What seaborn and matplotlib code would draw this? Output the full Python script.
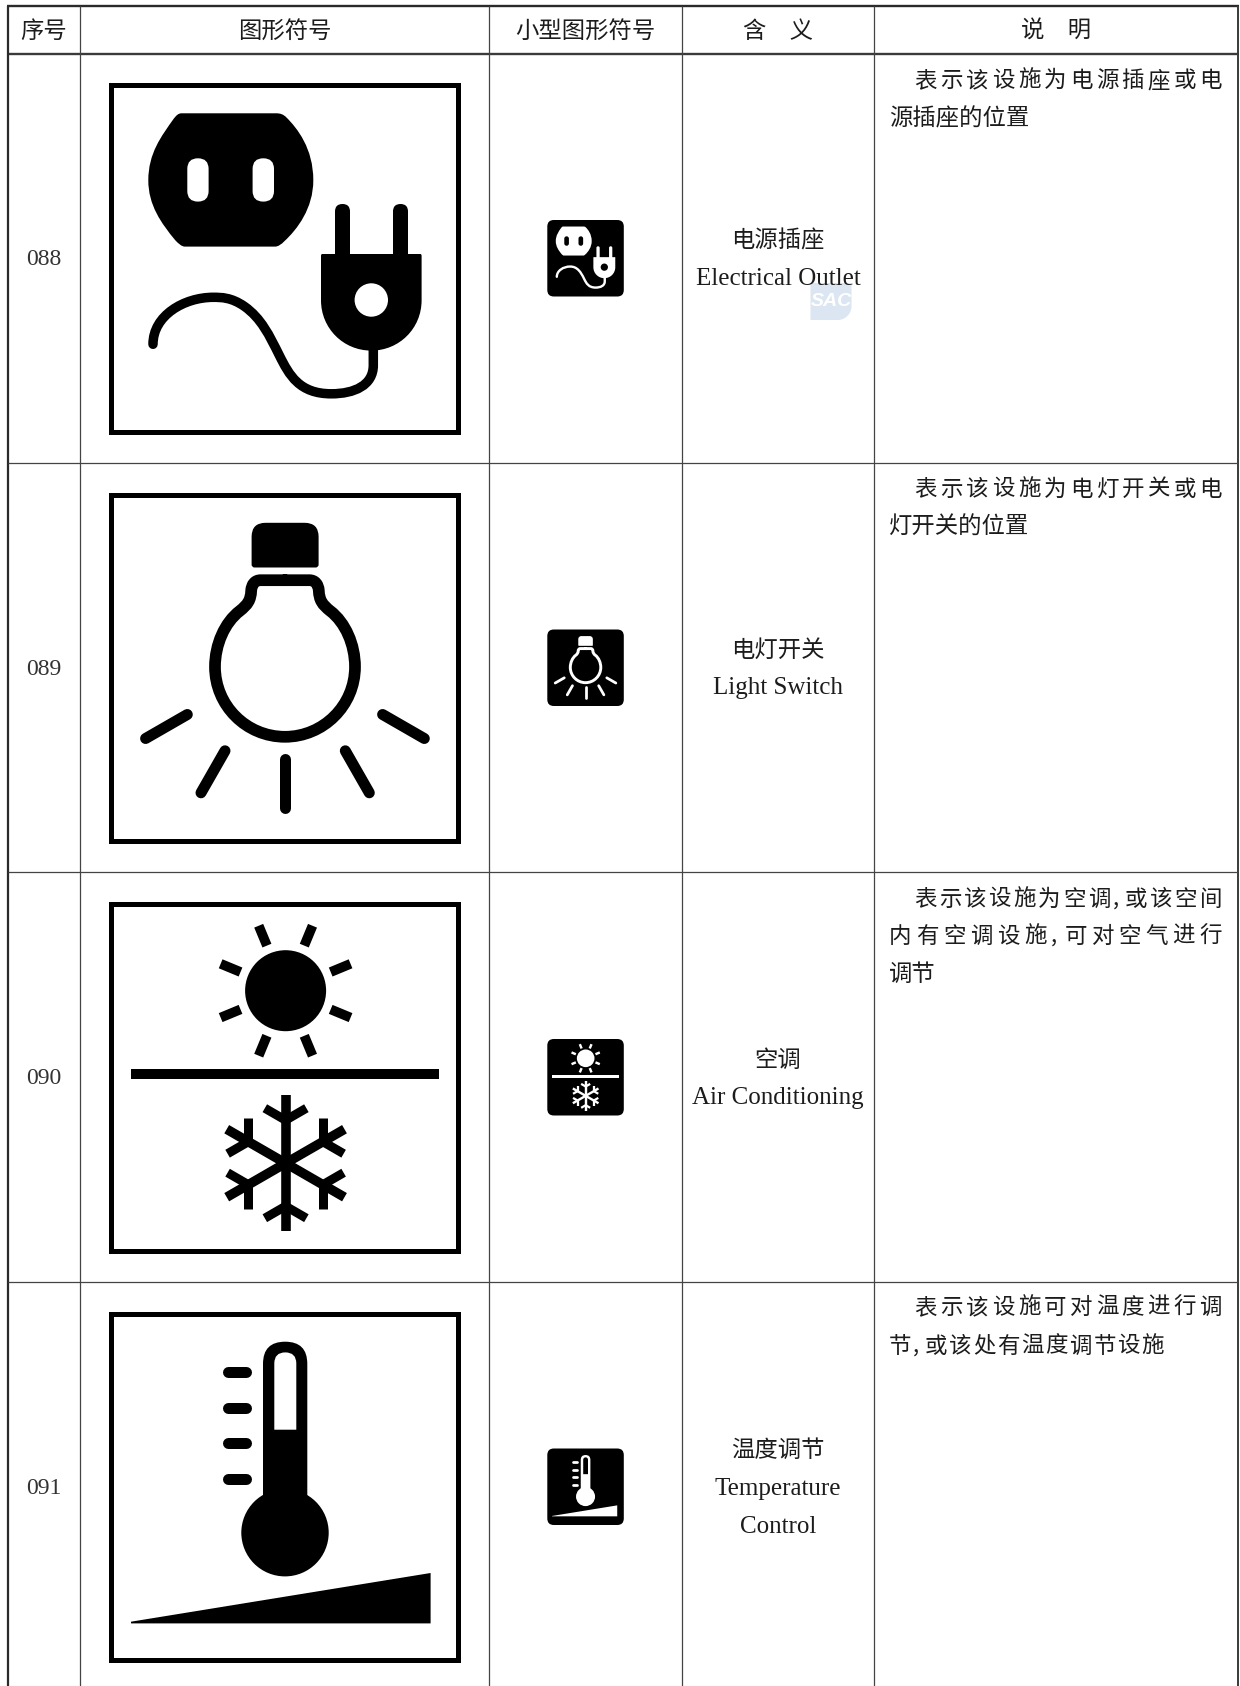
import numpy as np
import matplotlib
matplotlib.use("Agg")
import matplotlib.pyplot as plt
import seaborn as sns
from matplotlib.path import Path
from matplotlib.patches import PathPatch, Circle, Polygon
from matplotlib.transforms import Affine2D

sns.set_theme(style="white")
CJK = ['Noto Sans CJK SC', 'DejaVu Sans']
plt.rcParams['font.family'] = CJK

# ============================================================
# 1. TABLE CONTENT
# ============================================================

headers = ["序号", "图形符号", "小型图形符号", "含　义", "说　明"]
numbers = ["088", "089", "090", "091"]
names_cn = ["电源插座", "电灯开关", "空调", "温度调节"]
names_en = [["Electrical Outlet"], ["Light Switch"], ["Air Conditioning"], ["Temperature", "Control"]]
notes = [
    ["表示该设施为电源插座或电", "源插座的位置"],
    ["表示该设施为电灯开关或电", "灯开关的位置"],
    ["表示该设施为空调,或该空间", "内有空调设施,可对空气进行", "调节"],
    ["表示该设施可对温度进行调", "节,或该处有温度调节设施"],
]

# ============================================================
# 2. LAYOUT (pixels of the page)
# ============================================================

W, H = 1240, 1686
col_x = [8, 80, 489, 682, 874, 1238]
row_y = [54, 463, 872.3, 1281.7]
header_x = [43.5, 285, 585, 778, 1056]
BOX = 351.5
box_x, box_y = 109.3, [83.3, 492.5, 902, 1311.7]
MINI = 76.5
mini_x, mini_y = 547.3, [220, 629.5, 1039, 1448.5]
PX = 0.72  # points per pixel at dpi 100
TXT = 16.8
TXT_JUST = 16.2


# ============================================================
# 3. HELPERS
# ============================================================

def curve(start, *segments):
    """Path from a start point; 1 point = line, 3 points = bezier."""
    verts, codes = [start], [Path.MOVETO]
    for seg in segments:
        if len(seg) == 1:
            verts += seg
            codes += [Path.LINETO]
        else:
            verts += seg
            codes += [Path.CURVE4] * 3
    return Path(verts, codes)


def round_rect(x0, y0, x1, y1, rt, rb=None):
    rb = rt if rb is None else rb
    verts = [(x0 + rt, y0), (x1 - rt, y0), (x1, y0), (x1, y0 + rt), (x1, y1 - rb), (x1, y1), (x1 - rb, y1),
             (x0 + rb, y1), (x0, y1), (x0, y1 - rb), (x0, y0 + rt), (x0, y0), (x0 + rt, y0)]
    codes = [Path.MOVETO, Path.LINETO, Path.CURVE3, Path.CURVE3, Path.LINETO, Path.CURVE3, Path.CURVE3,
             Path.LINETO, Path.CURVE3, Path.CURVE3, Path.LINETO, Path.CURVE3, Path.CURVE3]
    return Path(verts, codes)


class Pen:
    """Draws in local icon units (0..351, y down)."""

    def __init__(self, ax, x, y, scale, fg, bg, boost=1.0):
        self.ax, self.scale, self.fg, self.bg, self.boost = ax, scale, fg, bg, boost
        self.tr = Affine2D().scale(scale).translate(x, y) + ax.transData

    def fill(self, path, color=None):
        self.ax.add_patch(PathPatch(path, fc=color or self.fg, ec='none', lw=0, transform=self.tr))

    def stroke(self, path, width, cap='round'):
        self.ax.add_patch(PathPatch(path, fc='none', ec=self.fg, lw=width * self.scale * self.boost * PX,
                                    capstyle=cap, joinstyle='round', transform=self.tr))

    def line(self, p0, p1, width, cap='round'):
        self.stroke(Path([p0, p1]), width, cap)

    def circle(self, c, r, color=None):
        self.ax.add_patch(Circle(c, r, fc=color or self.fg, ec='none', lw=0, transform=self.tr))

    def poly(self, pts, color=None):
        self.ax.add_patch(Polygon(pts, closed=True, fc=color or self.fg, ec='none', lw=0, transform=self.tr))


def cjk_text(ax, text, x, y, ha='center', size=TXT, color='#1c1c1c'):
    em = size / PX
    ax.text(x, y + 0.38 * em, text, fontsize=size, color=color, ha=ha, va='baseline', family=CJK)


def justified(ax, text, x0, x1, y, size=TXT_JUST):
    """One text per character, spread between x0 and x1 like the typeset lines."""
    em = size / PX
    weights = [0.5 if ch == ',' else 1 for ch in text]
    pitch = (x1 - x0 - em) / max(sum(weights) - 1, 1)
    x = x0
    for ch, w in zip(text, weights):
        cjk_text(ax, ch, x, y, ha='left', size=size)
        x += w * pitch


# ============================================================
# 4. PICTOGRAMS
# ============================================================

def draw_outlet(p):
    socket = curve((72.3, 30), [(167, 30)], [(171, 30), (174, 31), (177, 34)], [(188, 45), (204, 65), (204, 97)],
                   [(204, 125), (188, 146), (175, 158)], [(172, 161), (169, 163.3), (165.7, 163.3)],
                   [(75.7, 163.3)], [(72, 163.3), (69, 160), (66, 157)], [(52, 140), (39, 122), (39, 97)],
                   [(39, 70), (52, 53), (64, 36)], [(67, 32), (69, 30), (72.3, 30)])
    p.fill(socket)
    p.fill(round_rect(78, 75, 99.3, 118.3, 10.6), p.bg)
    p.fill(round_rect(143.3, 75, 164.7, 118.3, 10.6), p.bg)
    p.fill(round_rect(225.7, 120.7, 240.7, 180, 7.4, 0))
    p.fill(round_rect(283.7, 120.7, 298.7, 180, 7.4, 0))
    body = curve((213, 170.7), [(311, 170.7)], [(312, 170.7), (312.3, 171.5), (312.3, 173)], [(312.3, 217)],
                 [(312.3, 245), (290, 267.3), (262, 267.3)], [(234, 267.3), (211.7, 245), (211.7, 217)],
                 [(211.7, 173)], [(211.7, 171.5), (212, 170.7), (213, 170.7)])
    p.fill(body)
    p.circle((262, 216.7), 16.7, p.bg)
    cord = curve((264, 262), [(264, 282)], [(264, 302), (245, 310.5), (222, 310.5)],
                 [(190, 310.5), (180, 292), (170, 272)], [(160, 252), (152, 235), (135, 223)],
                 [(122, 214), (112, 214), (104, 214)], [(75, 214), (43.7, 232), (43.7, 261)])
    p.stroke(cord, 9.5)


def draw_bulb(p):
    p.fill(round_rect(142.3, 30.3, 209.3, 75, 14, 3))
    cx = 175.7
    right = [[(200, 87.7)], [(206, 87.7), (209, 92), (209.5, 98)], [(210, 108), (213, 112), (221, 118.5)],
             [(236, 130), (245.7, 152), (245.7, 174.3)], [(245.7, 213), (214, 244.3), (cx, 244.3)]]
    left = [[(137, 244.3), (105.7, 213), (105.7, 174.3)], [(105.7, 152), (115.4, 130), (130.4, 118.5)],
            [(138.4, 112), (141.4, 108), (141.9, 98)], [(142.4, 92), (145.4, 87.7), (151.4, 87.7)], [(cx, 87.7)]]
    p.stroke(curve((cx, 87.7), *right, *left), 11.7)
    p.line((cx, 266), (cx, 315.3), 11)
    p.line((115.7, 258.3), (91.7, 300.3), 11)
    p.line((236, 258.3), (260, 300.3), 11)
    p.line((78, 222), (36.3, 246), 11)
    p.line((273.3, 222), (315, 246), 11)


def draw_aircon(p):
    c = np.array([176.3, 88.7])
    p.circle(tuple(c), 40.5)
    for ang in np.arange(22.5, 360, 45):
        d = np.array([np.cos(np.radians(ang)), np.sin(np.radians(ang))])
        p.line(tuple(c + 48.8 * d), tuple(c + 70.3 * d), 9.7, 'butt')
    p.poly([(22, 167.3), (329.7, 167.3), (329.7, 177.3), (22, 177.3)])
    c = np.array([176.3, 261.2])
    for ang in np.arange(0, 360, 60):
        a = np.radians(ang - 90)
        d = np.array([np.cos(a), np.sin(a)])
        p.line(tuple(c), tuple(c + 68 * d), 9.6, 'butt')
        root = c + 43 * d
        for side in (-60, 60):
            b = a + np.radians(side)
            p.line(tuple(root), tuple(root + 24 * np.array([np.cos(b), np.sin(b)])), 9, 'butt')


def draw_thermo(p):
    p.fill(round_rect(153.7, 30, 198, 225, 22.1, 0))
    p.circle((175.7, 221), 43.7)
    p.fill(round_rect(165, 40.7, 187, 118, 11, 0), p.bg)
    for y in (60.7, 96.7, 131.7, 167.3):
        p.line((118.5, y), (136.2, y), 11)
    p.poly([(21.7, 310), (321.3, 261.3), (321.3, 311.7), (21.7, 311.7)])


glyphs = [draw_outlet, draw_bulb, draw_aircon, draw_thermo]

# ============================================================
# 5. PAGE
# ============================================================

fig = plt.figure(figsize=(W / 100, H / 100), dpi=100, facecolor='white')
ax = fig.add_axes([0, 0, 1, 1])
ax.set_xlim(0, W)
ax.set_ylim(H, 0)
ax.axis('off')


def rule(xs, ys, lw, color):
    sns.lineplot(x=xs, y=ys, color=color, linewidth=lw, estimator=None, sort=False,
                 legend=False, ax=ax, solid_capstyle='butt')


rule([col_x[0] - 1, col_x[-1] + 1], [6, 6], 1.7, '#2a2a2a')
rule([col_x[0] - 1, col_x[-1] + 1], [54, 54], 1.7, '#3a3a3a')
rule([col_x[0], col_x[0]], [6, H], 1.6, '#2a2a2a')
rule([col_x[-1], col_x[-1]], [6, H], 1.4, '#3a3a3a')
for x in col_x[1:-1]:
    rule([x, x], [6, H], 0.9, '#444444')
for y in row_y[1:]:
    rule([col_x[0], col_x[-1]], [y, y], 0.9, '#444444')

# watermark sits under the text
ax.add_patch(PathPatch(curve((810.5, 283), [(851.5, 283)], [(851.5, 306)], [(851.5, 314), (845, 320), (838, 320)],
                             [(810.5, 320)], [(810.5, 283)]), fc='#dce6f2', ec='none', lw=0))
ax.text(831, 301, "SAC", fontsize=14, color='white', style='italic', weight='bold', ha='center', va='center',
        family='Liberation Sans')

for label, x in zip(headers, header_x):
    cjk_text(ax, label, x, 29)

cn_y = [239, 648, 1058, 1448.5]
en_y = [[277], [686], [1096], [1487, 1525]]
num_y = [257, 667, 1076, 1486]
note_y = [[78.5, 116.5], [487, 525], [897, 934.5, 972], [1305.5, 1344]]
note_x0 = [[914, 889], [914, 889], [914, 889, 889], [914, 889]]
note_x1 = [[1222, None], [1222, None], [1222, 1222, None], [1222, 1164]]

for i in range(4):
    big = Pen(ax, box_x, box_y[i], 1.0, 'black', 'white')
    big.poly([(0, 0), (BOX, 0), (BOX, BOX), (0, BOX)], 'black')
    big.poly([(5, 5), (BOX - 5, 5), (BOX - 5, BOX - 5), (5, BOX - 5)], 'white')
    glyphs[i](big)

    small = Pen(ax, mini_x, mini_y[i], MINI / BOX, 'white', 'black', boost=1.15)
    small.fill(round_rect(0, 0, BOX, BOX, 30), 'black')
    glyphs[i](small)

    ax.text(44, num_y[i] + 8, numbers[i], fontsize=17, color='#333333', ha='center', va='baseline',
            family='Liberation Serif')
    cjk_text(ax, names_cn[i], 778, cn_y[i])
    for line, y in zip(names_en[i], en_y[i]):
        ax.text(778, y + 8, line, fontsize=18, color='#1c1c1c', ha='center', va='baseline',
                family='Liberation Serif')
    for line, y, x0, x1 in zip(notes[i], note_y[i], note_x0[i], note_x1[i]):
        if x1 is None:
            cjk_text(ax, line, x0, y, ha='left')
        else:
            justified(ax, line, x0, x1, y)

fig.savefig('out.png', dpi=100, facecolor='white')
